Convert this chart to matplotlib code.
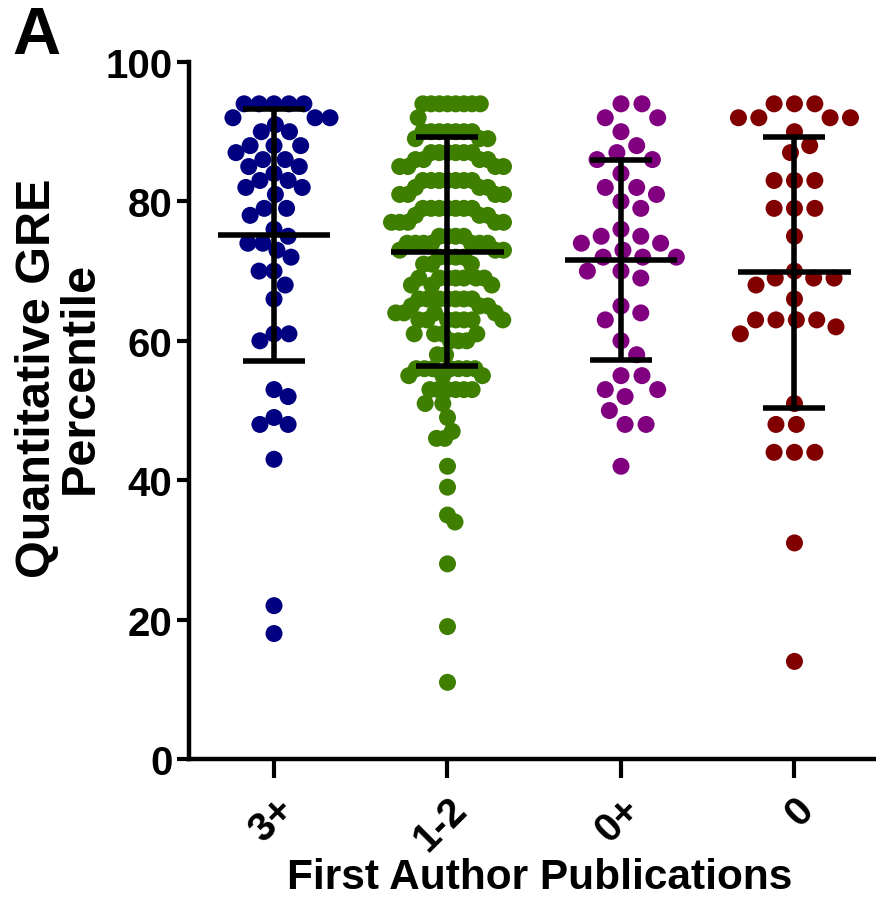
import numpy as np
import matplotlib
matplotlib.use('Agg')
from matplotlib import pyplot as plt

plt.rcParams['font.family'] = ['Liberation Sans', 'DejaVu Sans']
plt.rcParams['font.weight'] = 'bold'

# DATA
categories = ['3+', '1-2', '0+', '0']
colors = ['#000080', '#3f7f00', '#800080', '#800000']

pubs_3plus = [94, 94, 94, 94, 94, 92, 92, 92, 91, 90, 90, 88, 88, 88, 87, 86, 86, 85, 85,
              84, 83, 83, 82, 82, 81, 79, 79, 78, 76, 75, 74, 74, 73, 72, 70, 70, 68, 66,
              61, 61, 60, 53, 52, 49, 48, 48, 43, 22, 18]
pubs_1to2 = [94, 94, 94, 94, 94, 94, 94, 94, 92, 90, 90, 90, 90, 90, 90, 90, 89, 89, 89,
             87, 87, 87, 87, 87, 87, 86, 86, 86, 86, 85, 85, 85, 85, 83, 83, 83, 83, 83, 83,
             83, 82, 82, 82, 81, 81, 81, 81, 79, 79, 79, 79, 79, 79, 79, 78, 78, 78, 77, 77,
             77, 77, 77, 75, 75, 75, 75, 74, 74, 74, 74, 74, 74, 74, 73, 73, 73, 72, 72, 72,
             72, 71, 71, 71, 69, 69, 69, 69, 69, 69, 69, 68, 68, 68, 66, 66, 66, 66, 66, 66,
             66, 65, 65, 65, 64, 64, 64, 64, 63, 63, 63, 63, 63, 63, 63, 61, 61, 61, 61, 60,
             60, 60, 58, 58, 56, 56, 56, 56, 56, 56, 56, 55, 55, 55, 53, 53, 53, 53, 53, 53,
             51, 51, 49, 47, 46, 46, 42, 39, 35, 34, 28, 19, 11]
pubs_0plus = [94, 94, 92, 92, 90, 88, 87, 86, 86, 84, 82, 82, 81, 80, 79, 76, 75, 75, 74,
              74, 73, 72, 72, 72, 70, 70, 69, 65, 64, 63, 60, 58, 55, 55, 53, 53, 52, 50,
              48, 48, 42]
pubs_0 = [94, 94, 94, 92, 92, 92, 92, 90, 88, 87, 83, 83, 83, 79, 79, 79, 75, 70, 69, 69,
          69, 68, 66, 63, 63, 63, 63, 62, 61, 51, 48, 48, 44, 44, 44, 31, 14]

means = [75.2, 72.8, 71.6, 69.8]
sds = [18.1, 16.4, 14.4, 19.5]

groups = [pubs_3plus, pubs_1to2, pubs_0plus, pubs_0]

DPI = 100
X_LIM = (-0.49, 3.47)
Y_LIM = (0, 100)
AX_W_PX, AX_H_PX = 687, 697


def swarm_offsets(values, d_px, max_half_px):
    """Beeswarm style x offsets (in data units) so dots don't overlap."""
    ppu_x = AX_W_PX / (X_LIM[1] - X_LIM[0])
    ppu_y = AX_H_PX / (Y_LIM[1] - Y_LIM[0])
    values = np.asarray(values, dtype=float)
    order = np.argsort(-values, kind='stable')
    placed = []
    offsets = np.zeros(len(values))
    for i in order:
        y = values[i] * ppu_y
        neigh = [(px, py) for px, py in placed if abs(py - y) < d_px]
        cands = [0.0]
        for px, py in neigh:
            dx = np.sqrt(d_px ** 2 - (py - y) ** 2)
            cands += [px + dx, px - dx]
        cands.sort(key=abs)
        chosen = cands[-1]
        for c in cands:
            if all((c - px) ** 2 + (y - py) ** 2 >= d_px ** 2 - 1e-6 for px, py in neigh):
                chosen = c
                break
        offsets[i] = chosen
        placed.append((chosen, y))
    widest = np.abs(offsets).max()
    if widest > max_half_px:
        offsets *= max_half_px / widest
    return offsets / ppu_x


fig = plt.figure(figsize=(8.76, 9.03), dpi=DPI)
ax = fig.add_axes([189 / 876, 143 / 903, AX_W_PX / 876, AX_H_PX / 903])

spacing = [21, 17, 21, 21]
for i, (vals, col) in enumerate(zip(groups, colors)):
    xs = i + swarm_offsets(vals, spacing[i], 56)
    ax.scatter(xs, vals, s=150, color=col, edgecolors='none', zorder=2, clip_on=False)

# mean line and SD error bars
x_pos = np.arange(len(categories))
ax.hlines(means, x_pos - 0.325, x_pos + 0.325, color='black', lw=4, zorder=3)
ax.errorbar(x_pos, means, yerr=sds, fmt='none', ecolor='black', elinewidth=4,
            capsize=22, capthick=4, zorder=3)

ax.set_xlim(*X_LIM)
ax.set_ylim(*Y_LIM)
ax.set_yticks([0, 20, 40, 60, 80, 100])
ax.set_xticks(x_pos)
ax.set_xticklabels(categories, rotation=45, ha='right', rotation_mode='anchor')

for side in ['top', 'right']:
    ax.spines[side].set_visible(False)
for side in ['left', 'bottom']:
    ax.spines[side].set_linewidth(3.2)

ax.tick_params(axis='y', length=9, width=3, pad=3, labelsize=29)
ax.tick_params(axis='x', length=14, width=3, pad=8, labelsize=29)

ax.set_ylabel('Quantitative GRE\nPercentile', fontsize=35, fontweight='bold', linespacing=0.95)
ax.yaxis.set_label_coords(-0.125, 0.548)
ax.set_xlabel('First Author Publications', fontsize=30.5, fontweight='bold')
ax.xaxis.set_label_coords(0.51, -0.14)

fig.text(12 / 876, 1 - 6 / 903, 'A', fontsize=48, fontweight='bold', ha='left', va='top')

fig.savefig('out.png', dpi=DPI)
